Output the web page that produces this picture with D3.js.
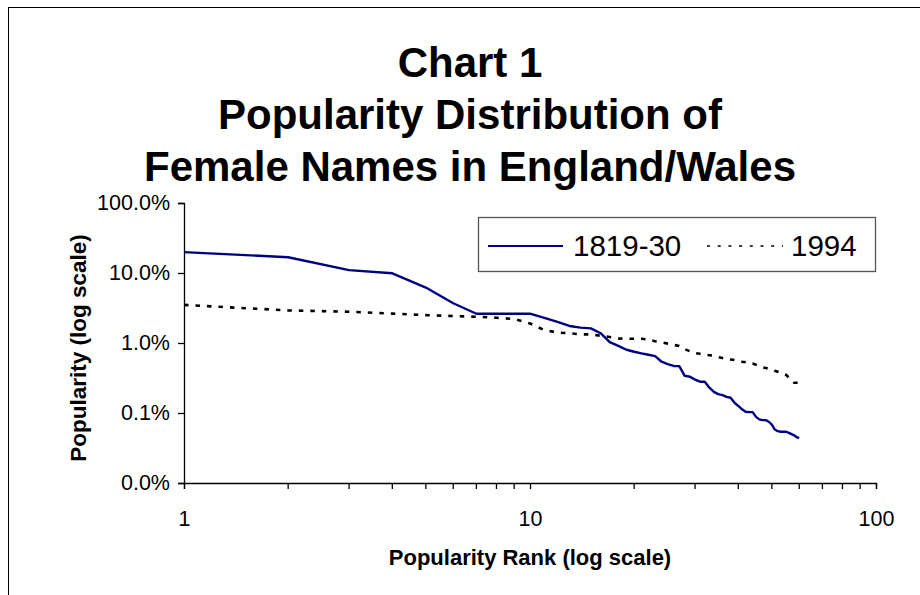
<!DOCTYPE html>
<html lang="en">
<head>
<meta charset="utf-8">
<title>Chart 1 - Popularity Distribution of Female Names</title>
<script src="https://cdn.jsdelivr.net/npm/d3@7"></script>
<style>
  body { margin: 0; background: #fff; }
  text { font-family: Arial, "Liberation Sans", sans-serif; }
</style>
</head>
<body>
<script>
// ranks 1..60
var ranks = d3.range(1, 61);

// popularity in percent
var pop1819 = [19.9, 16.8, 11.0, 9.9, 6.2, 3.7, 2.62, 2.62, 2.62, 2.62,
  2.28, 2.0, 1.75, 1.66, 1.62, 1.38, 1.03, 0.91, 0.80, 0.75,
  0.71, 0.68, 0.65, 0.54, 0.50, 0.47, 0.467, 0.34, 0.33, 0.30,
  0.28, 0.28, 0.23, 0.20, 0.186, 0.18, 0.17, 0.165, 0.14, 0.126,
  0.113, 0.104, 0.103, 0.103, 0.088, 0.081, 0.079, 0.079, 0.075, 0.068,
  0.058, 0.055, 0.054, 0.054, 0.054, 0.052, 0.050, 0.048, 0.045, 0.044];

var pop1994 = [3.5, 2.92, 2.8, 2.63, 2.5, 2.43, 2.37, 2.3, 2.2, 1.9,
  1.53, 1.41, 1.38, 1.33, 1.33, 1.27, 1.22, 1.16, 1.15, 1.15,
  1.15, 1.12, 1.06, 1.02, 0.98, 0.94, 0.91, 0.82, 0.76, 0.72,
  0.70, 0.68, 0.67, 0.66, 0.63, 0.61, 0.59, 0.58, 0.57, 0.56,
  0.54, 0.53, 0.51, 0.51, 0.49, 0.47, 0.45, 0.44, 0.43, 0.42,
  0.40, 0.39, 0.37, 0.36, 0.35, 0.32, 0.30, 0.27, 0.27, 0.27];

var seriesNames = ["1819-30", "1994"];
var yTicks = [100, 10, 1, 0.1, 0.01];
var yTickLabels = ["100.0%", "10.0%", "1.0%", "0.1%", "0.0%"];
var xMajor = [1, 10, 100];
var xMinor = [2, 3, 4, 5, 6, 7, 8, 9, 20, 30, 40, 50, 60, 70, 80, 90];
var titleLines = ["Chart 1", "Popularity Distribution of", "Female Names in England/Wales"];

var w = 920, h = 595;

var svg = d3.select("body").append("svg")
  .attr("width", w)
  .attr("height", h);

// outer chart border
svg.append("rect")
  .attr("x", 8.5).attr("y", 7.5)
  .attr("width", w).attr("height", h)
  .attr("fill", "none")
  .attr("stroke", "#000")
  .attr("stroke-width", 1);

var x = d3.scaleLog().domain([1, 100]).range([184, 876]);
var y = d3.scaleLog().domain([0.01, 100]).range([483, 203]);

// title
svg.selectAll(".title")
  .data(titleLines)
  .enter().append("text")
  .attr("class", "title")
  .attr("x", 470)
  .attr("y", function(d, i) { return 77 + i * 52; })
  .attr("text-anchor", "middle")
  .attr("font-size", "42px")
  .attr("font-weight", "bold")
  .text(function(d) { return d; });

// y axis
var yAxis = d3.axisLeft(y)
  .tickValues(yTicks)
  .tickSize(6)
  .tickPadding(8)
  .tickFormat(function(d, i) { return yTickLabels[i]; });

var gy = svg.append("g")
  .attr("transform", "translate(184,0)")
  .call(yAxis);
gy.select(".domain").attr("stroke", "#000").attr("stroke-width", 1.3);
gy.selectAll(".tick line").attr("stroke", "#000").attr("stroke-width", 1.3);
gy.selectAll(".tick text")
  .attr("font-family", "Arial, 'Liberation Sans', sans-serif")
  .attr("font-size", "21.5px")
  .attr("fill", "#000");

// x axis
var xAxis = d3.axisBottom(x)
  .tickValues(xMajor)
  .tickSize(6)
  .tickPadding(22)
  .tickFormat(d3.format("d"));

var gx = svg.append("g")
  .attr("transform", "translate(0,483)")
  .call(xAxis);
gx.select(".domain").attr("stroke", "#000").attr("stroke-width", 1.3);
gx.selectAll(".tick line").attr("stroke", "#000").attr("stroke-width", 1.3);
gx.selectAll(".tick text")
  .attr("font-family", "Arial, 'Liberation Sans', sans-serif")
  .attr("font-size", "21.5px")
  .attr("fill", "#000");

gx.selectAll(".minor")
  .data(xMinor)
  .enter().append("line")
  .attr("class", "minor")
  .attr("x1", function(d) { return x(d); })
  .attr("x2", function(d) { return x(d); })
  .attr("y1", 0).attr("y2", 6)
  .attr("stroke", "#000")
  .attr("stroke-width", 1.3);

// axis titles
svg.append("text")
  .attr("x", 530).attr("y", 565)
  .attr("text-anchor", "middle")
  .attr("font-size", "22px")
  .attr("font-weight", "bold")
  .text("Popularity Rank (log scale)");

svg.append("text")
  .attr("transform", "translate(86,348) rotate(-90)")
  .attr("text-anchor", "middle")
  .attr("font-size", "22.5px")
  .attr("font-weight", "bold")
  .text("Popularity (log scale)");

// lines
var line = d3.line()
  .x(function(d) { return x(d[0]); })
  .y(function(d) { return y(d[1]); });

svg.append("path")
  .datum(d3.zip(ranks, pop1994))
  .attr("d", line)
  .attr("fill", "none")
  .attr("stroke", "#000")
  .attr("stroke-width", 2.6)
  .attr("stroke-dasharray", "4.5,7");

svg.append("path")
  .datum(d3.zip(ranks, pop1819))
  .attr("d", line)
  .attr("fill", "none")
  .attr("stroke", "#000080")
  .attr("stroke-width", 2.4)
  .attr("stroke-linejoin", "round");

// legend
var lg = svg.append("g");
lg.append("rect")
  .attr("x", 478.5).attr("y", 217.5)
  .attr("width", 397).attr("height", 54)
  .attr("fill", "#fff")
  .attr("stroke", "#555")
  .attr("stroke-width", 1.3);

lg.append("line")
  .attr("x1", 488).attr("x2", 563).attr("y1", 246).attr("y2", 246)
  .attr("stroke", "#000080").attr("stroke-width", 2);
lg.append("text")
  .attr("x", 573).attr("y", 256)
  .attr("font-size", "29.5px")
  .text(seriesNames[0]);

lg.append("line")
  .attr("x1", 707).attr("x2", 783).attr("y1", 246).attr("y2", 246)
  .attr("stroke", "#000").attr("stroke-width", 1.6)
  .attr("stroke-dasharray", "3,7.7");
lg.append("text")
  .attr("x", 791).attr("y", 256)
  .attr("font-size", "29.5px")
  .text(seriesNames[1]);
</script>
</body>
</html>
